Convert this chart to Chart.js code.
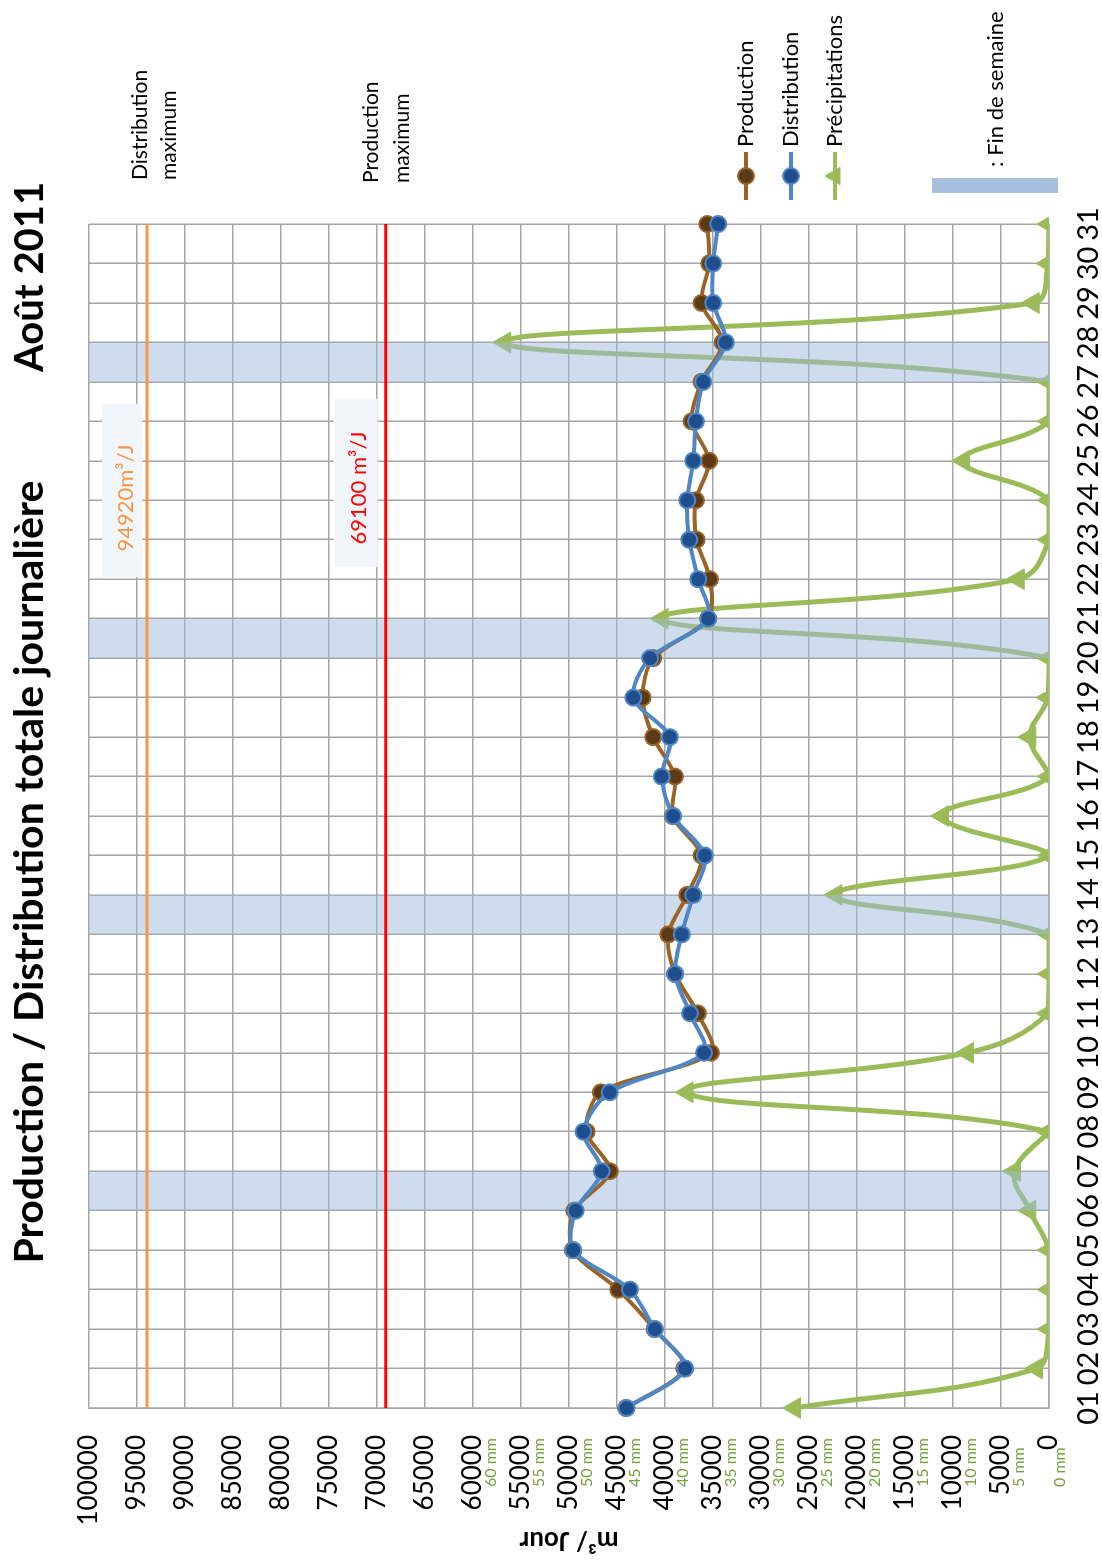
<!DOCTYPE html>
<html>
<head>
<meta charset="utf-8">
<script src="https://cdn.jsdelivr.net/npm/chart.js@4.4.1/dist/chart.umd.min.js"></script>
<style>
html, body { margin: 0; padding: 0; background: #fff; overflow: hidden; }
#wrap {
    position: absolute; left: 0; top: 0;
    width: 1564px; height: 1102px;
    transform-origin: 0 0;
    transform: translateY(1564px) rotate(-90deg);
}
</style>
</head>
<body>
<div id="wrap"><canvas id="chart" width="1564" height="1102"></canvas></div>
<script>
// data
var days = ['01','02','03','04','05','06','07','08','09','10','11','12','13','14','15','16',
            '17','18','19','20','21','22','23','24','25','26','27','28','29','30','31'];
var production = [44050, 38000, 41100, 44880, 49600, 49450, 45750, 48170, 46680, 35220, 36580,
                  38950, 39670, 37690, 36190, 39200, 38970, 41230, 42340, 41230, 35500, 35320,
                  36710, 36780, 35400, 37230, 36200, 34000, 36190, 35400, 35600];
var distribution = [44000, 37900, 41050, 43650, 49550, 49300, 46600, 48500, 45750, 35950, 37400,
                    38950, 38250, 37050, 35850, 39150, 40350, 39500, 43300, 41550, 35500, 36540,
                    37480, 37690, 37060, 36780, 36020, 33660, 34980, 34980, 34460];
var precipitations = [26.5, 1.3, 0, 0, 0, 2.0, 3.6, 0.1, 37.7, 8.5, 0.1, 0, 0, 22.2, 0, 11.1,
                      0, 2.0, 0.1, 0, 40.3, 3.2, 0, 0, 8.9, 0, 0, 56.7, 1.65, 0.1, 0];
var weekendDays = ['06','07','13','14','20','21','27','28'];
var productionMax = 69100;
var distributionMax = 93950;
var mmTicks = [0, 5, 10, 15, 20, 25, 30, 35, 40, 45, 50, 55, 60];

var bands = days.map(function (d) { return weekendDays.indexOf(d) >= 0 ? 100000 : null; });

var gridColor = '#a6a6a6';
var font = 'Lato';

var extras = {
    id: 'extras',
    afterDraw: function (chart) {
        var ctx = chart.ctx;
        var y = chart.scales.y, y2 = chart.scales.y2;
        ctx.save();

        // secondary (mm) labels
        ctx.font = '16px ' + font;
        ctx.fillStyle = '#77a03c';
        ctx.textAlign = 'left';
        ctx.textBaseline = 'middle';
        mmTicks.forEach(function (v) {
            ctx.fillText(v + ' mm', 77, y2.getPixelForValue(v) + (v === 0 ? 11 : 18));
        });

        // titles
        ctx.fillStyle = '#000';
        ctx.font = 'bold 41px ' + font;
        ctx.textAlign = 'center';
        ctx.fillText('Production / Distribution totale journalière', 692, 30);
        ctx.font = 'bold 40px ' + font;
        ctx.textAlign = 'left';
        ctx.fillText('Août 2011', 1192, 30);

        // value boxes on the max lines
        var pd = y.getPixelForValue(distributionMax);
        var pp = y.getPixelForValue(productionMax);
        ctx.fillStyle = '#f2f5fa';
        ctx.fillRect(987, pd - 45, 173, 40);
        ctx.fillRect(997, pp - 52, 168, 44);
        ctx.font = '22px ' + font;
        ctx.textAlign = 'center';
        ctx.fillStyle = '#f79646';
        ctx.fillText('94920m³/J', 1066, pd - 21);
        ctx.fillStyle = '#ff0000';
        ctx.fillText('69100 m³/J', 1076, pp - 27);

        // series names at the end of the max lines
        ctx.font = '21px ' + font;
        ctx.fillStyle = '#000';
        ctx.textAlign = 'left';
        ctx.fillText('Distribution', 1384, pd - 7);
        ctx.fillText('maximum', 1384, pd + 22);
        ctx.fillText('Production', 1381, pp - 14);
        ctx.fillText('maximum', 1381, pp + 17);

        // legend
        var items = [
            { ds: chart.data.datasets[1], y: 746 },
            { ds: chart.data.datasets[0], y: 791 },
            { ds: chart.data.datasets[5], y: 835 }
        ];
        items.forEach(function (it) {
            var ds = it.ds;
            ctx.strokeStyle = ds.borderColor;
            ctx.lineWidth = 4;
            ctx.beginPath();
            ctx.moveTo(1364, it.y);
            ctx.lineTo(1412, it.y);
            ctx.stroke();
            ctx.fillStyle = ds.pointBackgroundColor || ds.borderColor;
            ctx.strokeStyle = ds.pointBorderColor || ds.borderColor;
            ctx.lineWidth = ds.pointBorderWidth || 1;
            Chart.helpers.drawPoint(ctx, {
                pointStyle: ds.pointStyle || 'circle',
                radius: ds.pointStyle === 'triangle' ? 10 : ds.pointRadius,
                borderWidth: ds.pointBorderWidth || 1,
                rotation: 0
            }, 1388, it.y);
            ctx.fillStyle = '#000';
            ctx.font = '22px ' + font;
            ctx.fillText(ds.label, 1417, it.y);
        });

        ctx.fillStyle = '#a7bfde';
        ctx.fillRect(1371, 932, 15, 126);
        ctx.fillStyle = '#000';
        ctx.fillText(': Fin de semaine', 1397, 996);

        ctx.restore();
    }
};

new Chart(document.getElementById('chart'), {
    type: 'line',
    data: {
        labels: days,
        datasets: [
            {
                label: 'Distribution',
                data: distribution,
                borderColor: '#4f86c6',
                borderWidth: 4,
                tension: 0.3,
                pointRadius: 8,
                pointBackgroundColor: '#1f4e8c',
                pointBorderColor: '#4f86c6',
                pointBorderWidth: 2,
                order: 0
            },
            {
                label: 'Production',
                data: production,
                borderColor: '#9a6428',
                borderWidth: 4,
                tension: 0.3,
                pointRadius: 8,
                pointBackgroundColor: '#5c3a17',
                pointBorderColor: '#9a6428',
                pointBorderWidth: 2,
                order: 1
            },
            {
                label: 'Production maximum',
                data: days.map(function () { return productionMax; }),
                borderColor: '#ff0000',
                borderWidth: 3,
                pointRadius: 0,
                order: 2
            },
            {
                label: 'Distribution maximum',
                data: days.map(function () { return distributionMax; }),
                borderColor: '#f79646',
                borderWidth: 3,
                pointRadius: 0,
                order: 2
            },
            {
                label: 'Fin de semaine',
                data: bands,
                fill: 'origin',
                backgroundColor: 'rgba(160,186,220,0.5)',
                borderWidth: 0,
                pointRadius: 0,
                spanGaps: false,
                order: 3
            },
            {
                label: 'Précipitations',
                data: precipitations,
                yAxisID: 'y2',
                borderColor: '#9bbb59',
                backgroundColor: '#9bbb59',
                pointBackgroundColor: '#9bbb59',
                pointBorderColor: '#9bbb59',
                pointStyle: 'triangle',
                pointRadius: 12,
                pointBorderWidth: 1,
                borderWidth: 5,
                tension: 0.4,
                order: 4
            }
        ]
    },
    options: {
        responsive: false,
        animation: false,
        layout: { padding: { left: 0, top: 89, right: 224, bottom: 0 } },
        plugins: {
            legend: { display: false },
            tooltip: { enabled: false }
        },
        scales: {
            x: {
                grid: { color: gridColor, lineWidth: 1.5, drawTicks: false },
                border: { color: gridColor, width: 1.5 },
                ticks: {
                    color: '#000',
                    font: { family: font, size: 29 },
                    padding: 22,
                    autoSkip: false,
                    maxRotation: 0
                },
                afterFit: function (s) { s.height = 53; }
            },
            y: {
                min: 0,
                max: 100000,
                grid: { color: gridColor, lineWidth: 1.5, drawTicks: false },
                border: { color: gridColor, width: 1.5 },
                ticks: {
                    stepSize: 5000,
                    color: '#000',
                    font: { family: font, size: 26 },
                    padding: 27,
                    callback: function (v) { return String(v); }
                },
                title: {
                    display: true,
                    text: 'm³/ Jour',
                    color: '#000',
                    font: { family: font, size: 26, weight: 'bold' },
                    padding: { top: 8, bottom: 0 }
                },
                afterFit: function (s) { s.width = 156; }
            },
            y2: { display: false, min: 0, max: 100 }
        }
    },
    plugins: [extras]
});
</script>
</body>
</html>
